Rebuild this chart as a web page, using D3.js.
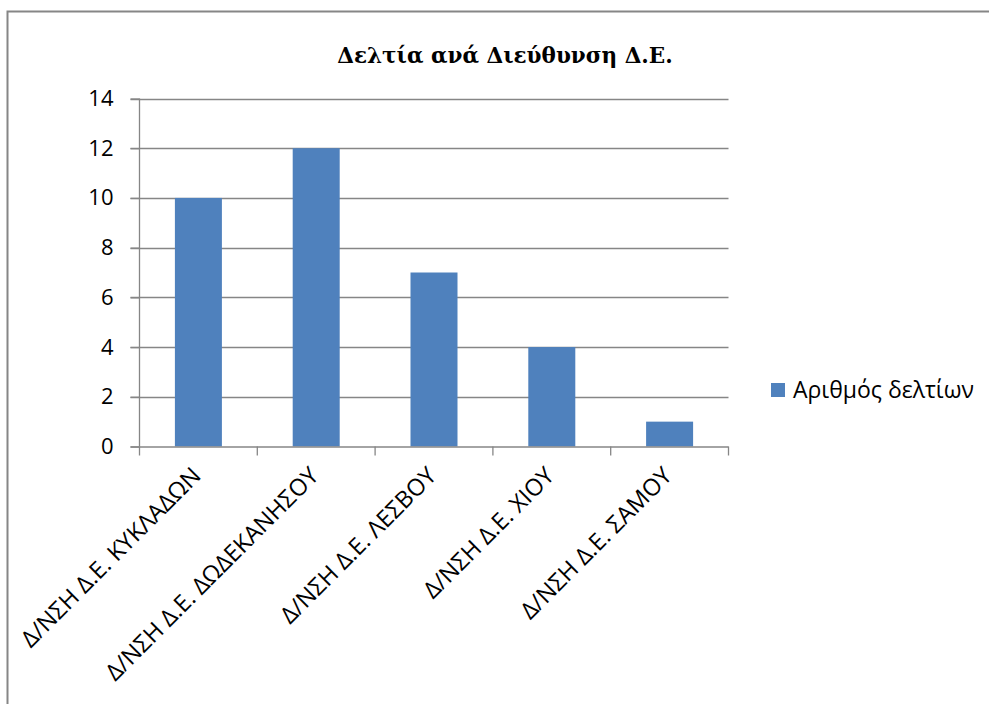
<!DOCTYPE html>
<html><head><meta charset="utf-8">
<script src="https://cdn.jsdelivr.net/npm/d3@7"></script>
<style>
html,body{margin:0;padding:0;background:#fff;}
svg{display:block;}
</style></head>
<body>
<svg id="chart" width="989" height="704"></svg>
<script>
const categories = ["Δ/ΝΣΗ Δ.Ε. ΚΥΚΛΑΔΩΝ","Δ/ΝΣΗ Δ.Ε. ΔΩΔΕΚΑΝΗΣΟΥ","Δ/ΝΣΗ Δ.Ε. ΛΕΣΒΟΥ","Δ/ΝΣΗ Δ.Ε. ΧΙΟΥ","Δ/ΝΣΗ Δ.Ε. ΣΑΜΟΥ"];
const values = [10, 12, 7, 4, 1];
const yTicks = [0, 2, 4, 6, 8, 10, 12, 14];
const seriesName = "Αριθμός δελτίων";
const title = "Δελτία ανά Διεύθυνση Δ.Ε.";

const svg = d3.select("#chart");
const W = 989, H = 704;
const plot = {left: 139.5, right: 728.5, top: 98.5, bottom: 446.5};
const grey = "#868686";
const barColor = "#4f81bd";
const labelFont = "'Open Sans', 'Noto Sans', sans-serif";

// outer frame
svg.append("path")
  .attr("d", `M7.5,${H+5} L7.5,11.5 L${W+5},11.5`)
  .attr("fill", "none").attr("stroke", grey).attr("stroke-width", 2);

// title
svg.append("text").attr("x", 505).attr("y", 63)
  .attr("text-anchor", "middle")
  .attr("font-family", "'DejaVu Serif', 'Liberation Serif', serif")
  .attr("font-weight", "bold").attr("font-size", 21.5)
  .attr("fill", "#000").text(title);

const xb = d3.scaleBand().domain(categories).range([plot.left, plot.right]);
const y = d3.scaleLinear().domain([0, 14]).range([plot.bottom, plot.top]);

// gridlines
svg.append("g").selectAll("line").data(yTicks.filter(t => t > 0)).join("line")
  .attr("x1", plot.left - 9).attr("x2", plot.right)
  .attr("y1", d => Math.round(y(d)) + 0.5).attr("y2", d => Math.round(y(d)) + 0.5)
  .attr("stroke", grey).attr("stroke-width", 1.3);

// bars
svg.append("g").selectAll("rect").data(values).join("rect")
  .attr("x", (d, i) => xb(categories[i]) + xb.bandwidth() / 2 - 23.5)
  .attr("width", 47)
  .attr("y", d => y(d))
  .attr("height", d => y(0) - y(d))
  .attr("fill", barColor);

// y axis
const yAxis = d3.axisLeft(y).tickValues(yTicks).tickSize(9).tickPadding(17);
const gy = svg.append("g").attr("transform", `translate(${plot.left},0)`).call(yAxis);
gy.select(".domain").attr("stroke", grey).attr("stroke-width", 1.3).attr("d", `M0,${plot.top}V${plot.bottom}`);
gy.selectAll(".tick line").attr("stroke", grey).attr("stroke-width", 1.3);
gy.selectAll(".tick text").attr("font-family", labelFont).attr("font-size", 22).attr("fill", "#000");

// x axis
svg.append("line").attr("x1", plot.left - 9).attr("x2", plot.right)
  .attr("y1", plot.bottom + 0.5).attr("y2", plot.bottom + 0.5)
  .attr("stroke", grey).attr("stroke-width", 1.3);
const bounds = categories.map(c => xb(c)).concat([plot.right]);
svg.append("g").selectAll("line").data(bounds).join("line")
  .attr("x1", d => d).attr("x2", d => d)
  .attr("y1", plot.bottom).attr("y2", plot.bottom + 9)
  .attr("stroke", grey).attr("stroke-width", 1.3);

// category labels
svg.append("g").selectAll("text").data(categories).join("text")
  .attr("transform", d => `translate(${xb(d) + xb.bandwidth() / 2 - 8},${plot.bottom + 19}) rotate(-45)`)
  .attr("text-anchor", "end")
  .attr("dy", "0.71em")
  .attr("font-family", labelFont).attr("font-size", 23.5).attr("fill", "#000")
  .text(d => d);

// legend
const lg = svg.append("g").attr("transform", "translate(771,383)");
lg.append("rect").attr("width", 14).attr("height", 14).attr("fill", barColor);
lg.append("text").attr("x", 22).attr("y", 7).attr("dy", "0.35em")
  .attr("font-family", labelFont).attr("font-size", 23).attr("fill", "#000").text(seriesName);
</script>
</body></html>
